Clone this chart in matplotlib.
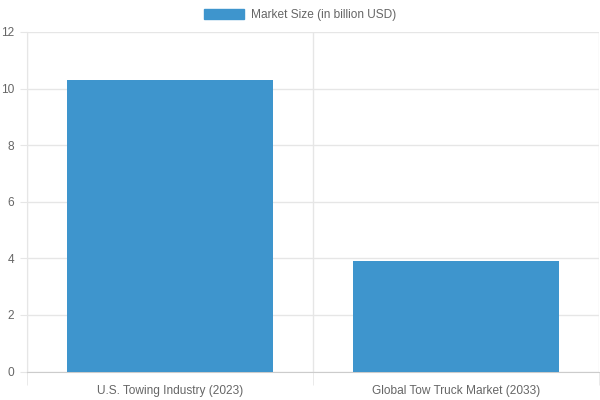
import matplotlib.pyplot as plt
from matplotlib.patches import Patch
import numpy as np

categories = ["U.S. Towing Industry (2023)", "Global Tow Truck Market (2033)"]
market_size = [10.3, 3.9]
series_label = "Market Size (in billion USD)"
y_ticks = [0, 2, 4, 6, 8, 10, 12]

plt.rcParams['font.family'] = ['Liberation Sans', 'DejaVu Sans']
bar_color = "#3e95cd"
grid_color = "#e6e6e6"
text_color = "#666666"
fsize = 8.6

fig = plt.figure(figsize=(6, 4), dpi=100)
ax = fig.add_axes([27 / 600, 28.5 / 400, 572 / 600, 339.5 / 400])

x = np.arange(len(categories))
ax.bar(x, market_size, width=0.72, color=bar_color, zorder=3)

ax.set_xlim(-0.5, len(categories) - 0.5)
ax.set_ylim(0, 12)
ax.set_yticks(y_ticks)
ax.set_xticks(x)
ax.set_xticklabels(categories)
# boundaries between categories get the grid lines (chart.js offset style)
ax.set_xticks(np.arange(len(categories) + 1) - 0.5, minor=True)

ax.grid(axis='y', color=grid_color, linewidth=1, zorder=0)
ax.grid(axis='x', which='minor', color=grid_color, linewidth=1, zorder=0)
ax.tick_params(axis='x', which='major', length=0, pad=10, labelsize=fsize, colors=text_color)
ax.tick_params(axis='x', which='minor', length=9, color=grid_color)
ax.tick_params(axis='y', length=5, labelsize=fsize, colors=text_color, pad=4)
ax.tick_params(axis='y', color=grid_color)

for s in ['top', 'right']:
    ax.spines[s].set_visible(False)
ax.spines['left'].set_color(grid_color)
ax.spines['bottom'].set_color("#cccccc")

handle = Patch(facecolor=bar_color, edgecolor=bar_color)
fig.legend([handle], [series_label], loc='center', bbox_to_anchor=(0.5, 0.962),
           frameon=False, fontsize=fsize, labelcolor=text_color,
           handlelength=3.35, handleheight=0.9, handletextpad=0.6)

fig.savefig("out.png", dpi=100)
